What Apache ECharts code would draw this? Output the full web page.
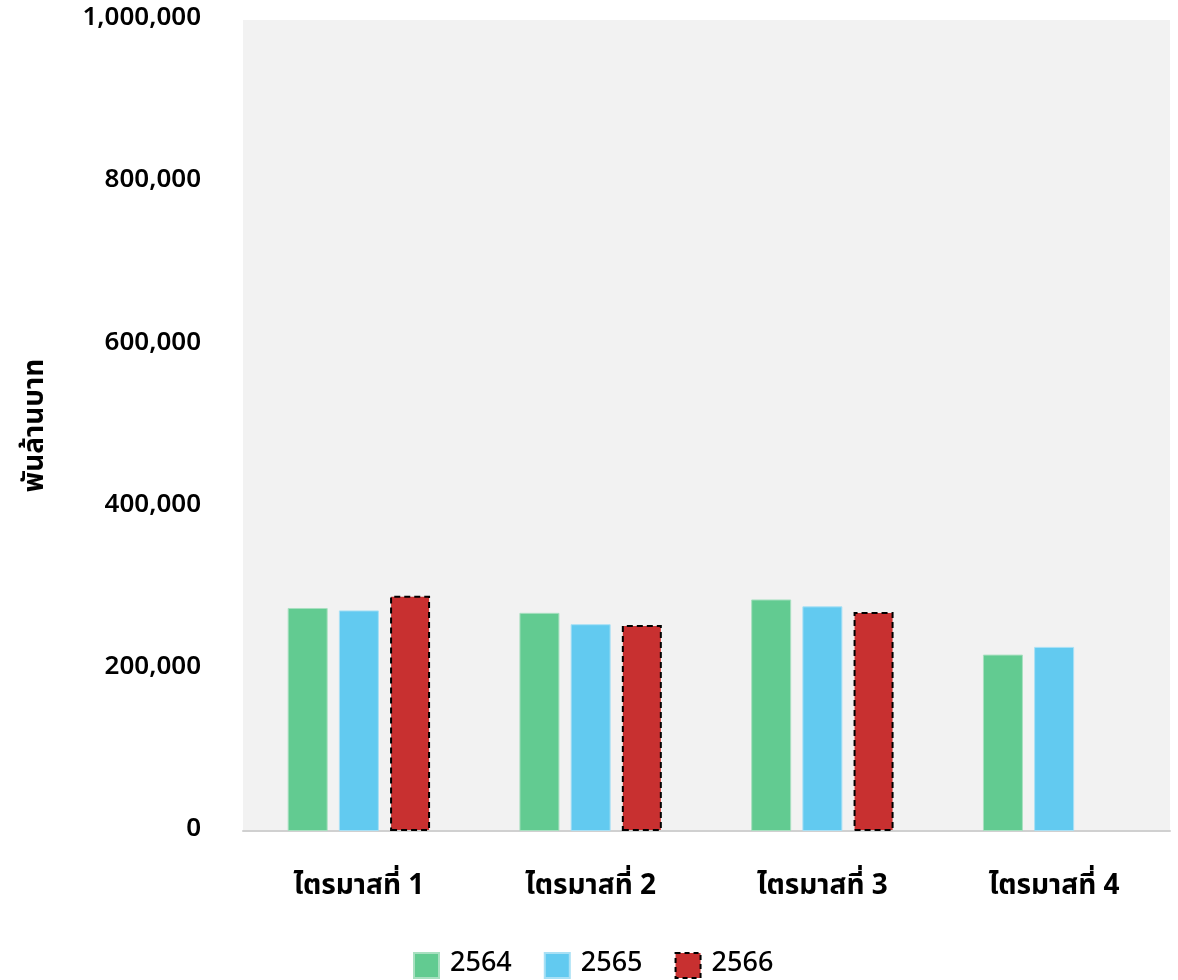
<!DOCTYPE html>
<html><head><meta charset="utf-8">
<script src="https://cdn.jsdelivr.net/npm/echarts@6/dist/echarts.min.js"></script>
<style>html,body{margin:0;padding:0;background:#fff}#c{width:1178px;height:980px}</style>
</head><body><div id="c"></div>
<script>
const categories = ['ไตรมาสที่ 1', 'ไตรมาสที่ 2', 'ไตรมาสที่ 3', 'ไตรมาสที่ 4'];
const seriesNames = ['2564', '2565', '2566'];
const values2564 = [275000, 269000, 285500, 217500];
const values2565 = [272000, 255000, 277000, 227000];
const values2566 = [290000, 254000, 270000, null];
const yAxisName = 'พันล้านบาท';

const font = "'Noto Sans Thai', 'Noto Sans', Tahoma, sans-serif";
const chart = echarts.init(document.getElementById('c'));
chart.setOption({
  animation: false,
  textStyle: { fontFamily: font },
  grid: { left: 243, right: 8, top: 20, bottom: 149, show: true, backgroundColor: '#f2f2f2', borderWidth: 0 },
  legend: {
    top: 947, left: 408, itemWidth: 25, itemHeight: 25, itemGap: 32, icon: 'rect',
    textStyle: { fontSize: 27, color: '#000', fontFamily: font, fontWeight: 500, padding: [0, 0, 0, 6] },
    data: [
      { name: seriesNames[0] },
      { name: seriesNames[1] },
      { name: seriesNames[2], itemStyle: { borderColor: '#000', borderWidth: 2, borderType: [5, 4] } }
    ]
  },
  xAxis: {
    type: 'category', data: categories,
    axisLine: { lineStyle: { color: '#d0d0d0', width: 2 } },
    axisTick: { show: false },
    axisLabel: { fontSize: 28, color: '#000', margin: 43, fontWeight: 'bold', fontFamily: font }
  },
  yAxis: {
    type: 'value', min: 0, max: 1000000, interval: 200000,
    name: yAxisName, nameLocation: 'middle', nameGap: 192, nameRotate: 90,
    nameTextStyle: { fontSize: 28, fontWeight: 'bold', color: '#000', fontFamily: font },
    splitLine: { show: false },
    axisLine: { show: false }, axisTick: { show: false },
    axisLabel: { fontSize: 26, color: '#000', margin: 42, fontWeight: 600, fontFamily: font,
      formatter: v => v.toLocaleString('en-US') }
  },
  series: [
    { name: seriesNames[0], type: 'bar', data: values2564, barWidth: 40, barGap: '28%',
      itemStyle: { color: '#62cb91', borderColor: '#a8e0c0', borderWidth: 1 } },
    { name: seriesNames[1], type: 'bar', data: values2565, barWidth: 40, barGap: '28%',
      itemStyle: { color: '#62caf0', borderColor: '#a8e0f5', borderWidth: 1 } },
    { name: seriesNames[2], type: 'bar', data: values2566, barWidth: 40, barGap: '28%',
      itemStyle: { color: '#c83030', borderColor: '#000', borderWidth: 2, borderType: [6, 4] } }
  ]
});
</script></body></html>
